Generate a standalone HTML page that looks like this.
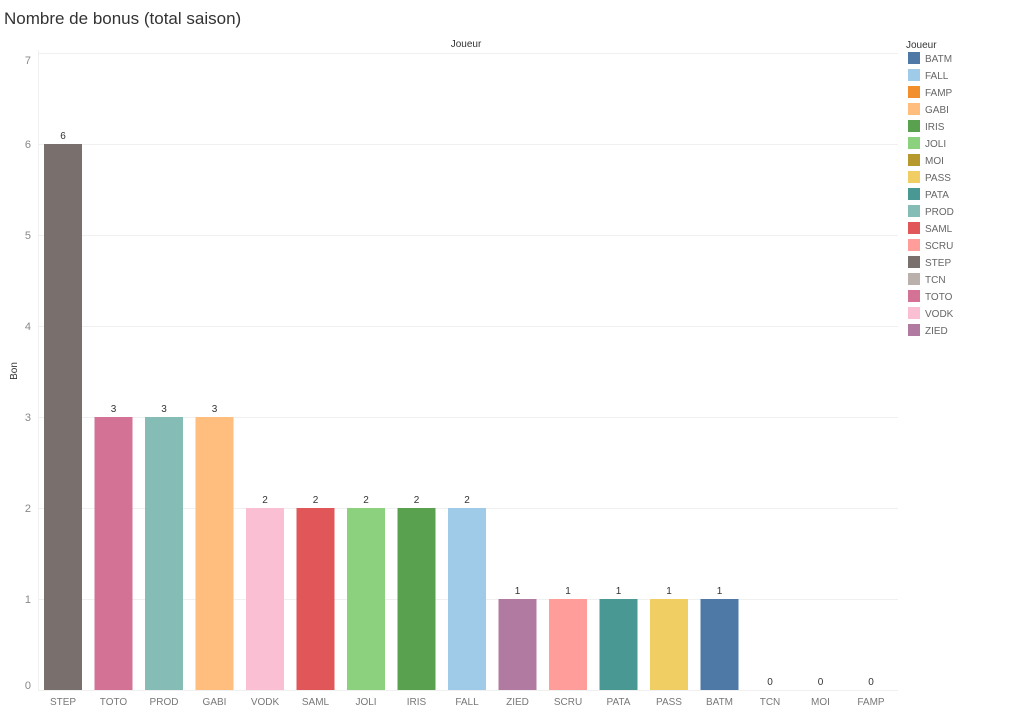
<!DOCTYPE html>
<html><head><meta charset="utf-8"><style>
body{margin:0;background:#fff;width:1024px;height:707px;overflow:hidden;font-family:"Liberation Sans",sans-serif}
</style></head><body>
<svg width="1024" height="707" xmlns="http://www.w3.org/2000/svg" font-family="Liberation Sans, sans-serif">
<text x="4" y="24" font-size="17" fill="#333">Nombre de bonus (total saison)</text>
<text x="466" y="47" font-size="10" fill="#333" text-anchor="middle">Joueur</text>
<g stroke="#f0f0f0" stroke-width="1">
<line x1="38" y1="53.5" x2="898" y2="53.5"/>
<line x1="38" y1="144.5" x2="898" y2="144.5"/>
<line x1="38" y1="235.5" x2="898" y2="235.5"/>
<line x1="38" y1="326.5" x2="898" y2="326.5"/>
<line x1="38" y1="417.5" x2="898" y2="417.5"/>
<line x1="38" y1="508.5" x2="898" y2="508.5"/>
<line x1="38" y1="599.5" x2="898" y2="599.5"/>
<line x1="38" y1="690.5" x2="898" y2="690.5"/>
<line x1="38.5" y1="50" x2="38.5" y2="690"/>
</g>
<g font-size="11" fill="#888" text-anchor="end">
<text x="31" y="64">7</text><text x="31" y="148">6</text><text x="31" y="239">5</text><text x="31" y="330">4</text><text x="31" y="421">3</text><text x="31" y="512">2</text><text x="31" y="603">1</text><text x="31" y="689">0</text>
</g>
<text transform="translate(17,371) rotate(-90)" font-size="10" fill="#333" text-anchor="middle">Bon</text>
<g>
<rect x="44" y="144" width="38" height="546" fill="#79706e"/>
<rect x="94.5" y="417" width="38" height="273" fill="#d37295"/>
<rect x="145" y="417" width="38" height="273" fill="#86bcb6"/>
<rect x="195.5" y="417" width="38" height="273" fill="#ffbe7d"/>
<rect x="246" y="508" width="38" height="182" fill="#fabfd2"/>
<rect x="296.5" y="508" width="38" height="182" fill="#e15759"/>
<rect x="347" y="508" width="38" height="182" fill="#8cd17d"/>
<rect x="397.5" y="508" width="38" height="182" fill="#59a14f"/>
<rect x="448" y="508" width="38" height="182" fill="#a0cbe8"/>
<rect x="498.5" y="599" width="38" height="91" fill="#b07aa1"/>
<rect x="549" y="599" width="38" height="91" fill="#ff9d9a"/>
<rect x="599.5" y="599" width="38" height="91" fill="#499894"/>
<rect x="650" y="599" width="38" height="91" fill="#f1ce63"/>
<rect x="700.5" y="599" width="38" height="91" fill="#4e79a7"/>
</g>
<g font-size="10" fill="#333" text-anchor="middle">
<text x="63" y="139">6</text><text x="113.5" y="412">3</text><text x="164" y="412">3</text><text x="214.5" y="412">3</text>
<text x="265" y="503">2</text><text x="315.5" y="503">2</text><text x="366" y="503">2</text><text x="416.5" y="503">2</text><text x="467" y="503">2</text>
<text x="517.5" y="594">1</text><text x="568" y="594">1</text><text x="618.5" y="594">1</text><text x="669" y="594">1</text><text x="719.5" y="594">1</text>
<text x="770" y="685">0</text><text x="820.5" y="685">0</text><text x="871" y="685">0</text>
</g>
<g font-size="10" fill="#777" text-anchor="middle">
<text x="63" y="705">STEP</text><text x="113.5" y="705">TOTO</text><text x="164" y="705">PROD</text><text x="214.5" y="705">GABI</text>
<text x="265" y="705">VODK</text><text x="315.5" y="705">SAML</text><text x="366" y="705">JOLI</text><text x="416.5" y="705">IRIS</text><text x="467" y="705">FALL</text>
<text x="517.5" y="705">ZIED</text><text x="568" y="705">SCRU</text><text x="618.5" y="705">PATA</text><text x="669" y="705">PASS</text><text x="719.5" y="705">BATM</text>
<text x="770" y="705">TCN</text><text x="820.5" y="705">MOI</text><text x="871" y="705">FAMP</text>
</g>
<text x="906" y="48" font-size="10" fill="#333">Joueur</text>
<g font-size="10" fill="#666">
<rect x="908" y="52" width="12" height="12" fill="#4e79a7"/><text x="925" y="62">BATM</text>
<rect x="908" y="69" width="12" height="12" fill="#a0cbe8"/><text x="925" y="79">FALL</text>
<rect x="908" y="86" width="12" height="12" fill="#f28e2b"/><text x="925" y="96">FAMP</text>
<rect x="908" y="103" width="12" height="12" fill="#ffbe7d"/><text x="925" y="113">GABI</text>
<rect x="908" y="120" width="12" height="12" fill="#59a14f"/><text x="925" y="130">IRIS</text>
<rect x="908" y="137" width="12" height="12" fill="#8cd17d"/><text x="925" y="147">JOLI</text>
<rect x="908" y="154" width="12" height="12" fill="#b6992d"/><text x="925" y="164">MOI</text>
<rect x="908" y="171" width="12" height="12" fill="#f1ce63"/><text x="925" y="181">PASS</text>
<rect x="908" y="188" width="12" height="12" fill="#499894"/><text x="925" y="198">PATA</text>
<rect x="908" y="205" width="12" height="12" fill="#86bcb6"/><text x="925" y="215">PROD</text>
<rect x="908" y="222" width="12" height="12" fill="#e15759"/><text x="925" y="232">SAML</text>
<rect x="908" y="239" width="12" height="12" fill="#ff9d9a"/><text x="925" y="249">SCRU</text>
<rect x="908" y="256" width="12" height="12" fill="#79706e"/><text x="925" y="266">STEP</text>
<rect x="908" y="273" width="12" height="12" fill="#bab0ac"/><text x="925" y="283">TCN</text>
<rect x="908" y="290" width="12" height="12" fill="#d37295"/><text x="925" y="300">TOTO</text>
<rect x="908" y="307" width="12" height="12" fill="#fabfd2"/><text x="925" y="317">VODK</text>
<rect x="908" y="324" width="12" height="12" fill="#b07aa1"/><text x="925" y="334">ZIED</text>
</g>
</svg>
</body></html>
